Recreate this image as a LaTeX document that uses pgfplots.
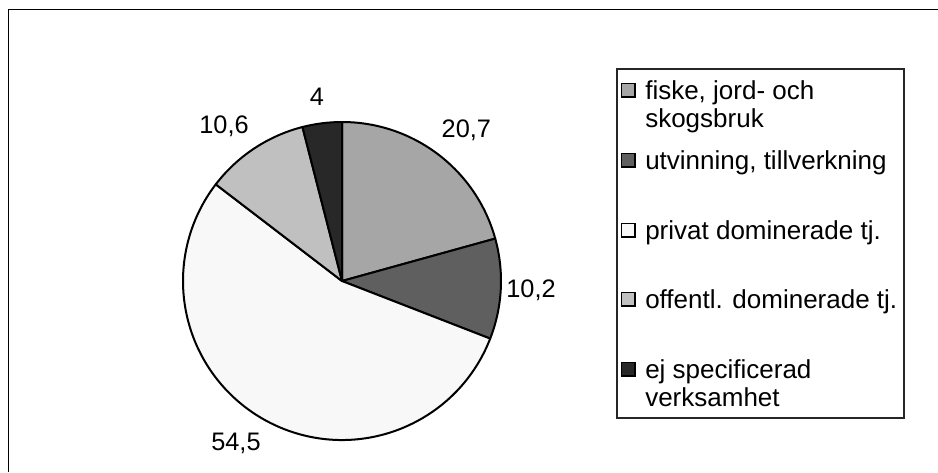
\documentclass[border=0pt]{standalone}
\usepackage{pgfplots}
\pgfplotsset{compat=1.18}
\usepackage{pgfplotstable}
\usepackage{fontspec}
\setmainfont{Liberation Sans}
\definecolor{cA}{RGB}{166,166,166}
\definecolor{cB}{RGB}{95,95,95}
\definecolor{cC}{RGB}{248,248,248}
\definecolor{cD}{RGB}{192,192,192}
\definecolor{cE}{RGB}{40,40,40}
% share, colour, label position (axis units, base of text)
\pgfplotstableread{
share col lx ly
20.7 cA 0.782 0.904
10.2 cB 1.189 -0.105
54.5 cC -0.667 -1.067
10.6 cD -0.742 0.929
4 cE -0.157 1.101
}\piedata
\def\u{0.75pt}
\begin{document}
\begin{tikzpicture}
\useasboundingbox (0,0) rectangle ({938*\u},{-472*\u});
% outer frame (only top and left visible)
\draw[line width={1.6*\u}, black] ({8.5*\u},{-472*\u}) -- ({8.5*\u},{-9.5*\u}) -- ({938*\u},{-9.5*\u});
\begin{axis}[at={({342*\u},{-281*\u})}, anchor=center, scale only axis,
  width={318*\u}, height={318*\u}, xmin=-1, xmax=1, ymin=-1, ymax=1,
  hide axis, clip=false, /pgf/number format/assume math mode=true]
\def\angA{90}
\pgfplotsforeachungrouped \i in {0,...,4}{%
  \pgfplotstablegetelem{\i}{share}\of\piedata \let\sval\pgfplotsretval
  \pgfplotstablegetelem{\i}{col}\of\piedata \let\scol\pgfplotsretval
  \pgfplotstablegetelem{\i}{lx}\of\piedata \let\lxv\pgfplotsretval
  \pgfplotstablegetelem{\i}{ly}\of\piedata \let\lyv\pgfplotsretval
  \pgfmathsetmacro\angB{\angA-3.6*\sval}%
  \edef\cmd{\noexpand\draw[fill=\scol, draw=black, line width=1.5pt, line join=round]
    (axis cs:0,0) -- (axis cs:{cos(\angA)},{sin(\angA)})
    arc[start angle=\angA, end angle=\angB, radius={159*0.75pt}] -- cycle;}%
  \cmd
  \edef\cmd{\noexpand\node[anchor=base, inner sep=0pt, font=\noexpand\fontsize{19}{22}\noexpand\selectfont]
    at (axis cs:\lxv,\lyv) {\noexpand\pgfmathprintnumber[use comma, assume math mode=true]{\sval}};}%
  \cmd
  \global\let\angA\angB
}
\end{axis}
% legend
\draw[line width={1.5*\u}, black!85] ({617*\u},{-69*\u}) rectangle ({904*\u},{-418*\u});
\tikzset{lt/.style={anchor=base west, inner sep=0pt, font=\fontsize{19.5}{23}\selectfont},
  sq/.style={draw=black, line width={1.8*\u}}}
\foreach \col/\bl in {cA/99, cB/169, cC/239, cD/308, cE/378}{
  \draw[sq, fill=\col] ({621.5*\u},{-(\bl-15.5)*\u}) rectangle ({635*\u},{-(\bl-2)*\u});
}
\node[lt] at ({645*\u},{-99*\u}) {fiske, jord- och};
\node[lt] at ({645*\u},{-127*\u}) {skogsbruk};
\node[lt] at ({645*\u},{-169*\u}) {utvinning, tillverkning};
\node[lt] at ({645*\u},{-239*\u}) {privat dominerade tj.};
\node[lt] at ({645*\u},{-308*\u}) {offentl. dominerade tj.};
\node[lt] at ({645*\u},{-378*\u}) {ej specificerad};
\node[lt] at ({645*\u},{-406*\u}) {verksamhet};
\end{tikzpicture}
\end{document}
